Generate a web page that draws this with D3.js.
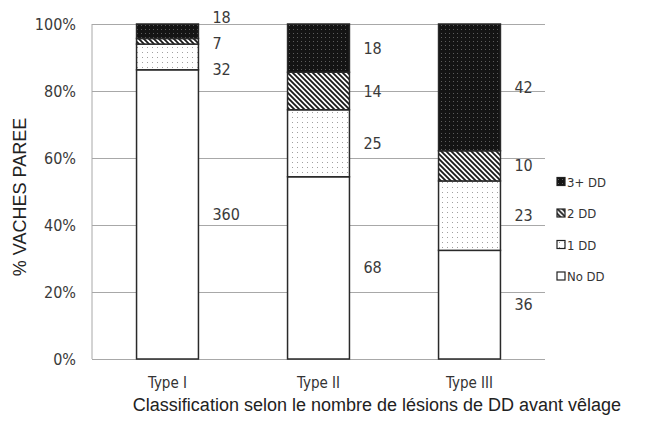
<!DOCTYPE html>
<html>
<head>
<meta charset="utf-8">
<script src="https://cdn.jsdelivr.net/npm/d3@7"></script>
<style>
  html, body { margin: 0; padding: 0; background: #fff; }
  svg { display: block; }
  .cond { font-family: "Liberation Sans Narrow", "DejaVu Sans Condensed", "Roboto Condensed", sans-serif; font-stretch: condensed; }
  .arial { font-family: "Liberation Sans", Arial, sans-serif; }
</style>
</head>
<body>
<svg id="chart" width="646" height="435"></svg>
<script>
// Cows grouped by number of DD lesions before calving
const categories = ["Type I", "Type II", "Type III"];
const seriesNames = ["No DD", "1 DD", "2 DD", "3+ DD"];
const noDD    = [360, 68, 36];
const oneDD   = [32, 25, 23];
const twoDD   = [7, 14, 10];
const threeDD = [18, 18, 42];
const yTicks  = [0, 0.2, 0.4, 0.6, 0.8, 1];
const yTitle  = "% VACHES PAREE";
const xTitle  = "Classification selon le nombre de lésions de DD avant vêlage";

const rows = categories.map((c, i) => ({
  cat: c,
  "No DD": noDD[i], "1 DD": oneDD[i], "2 DD": twoDD[i], "3+ DD": threeDD[i]
}));

const svg = d3.select("#chart");
const plotL = 92, plotR = 545, plotT = 24, plotB = 359;

const x = d3.scaleBand().domain(categories).range([plotL, plotR]).paddingInner(0.59).paddingOuter(0.295);
const y = d3.scaleLinear().domain([0, 1]).range([plotB, plotT]);

const stacked = d3.stack().keys(seriesNames).offset(d3.stackOffsetExpand)(rows);

// patterns
const defs = svg.append("defs");
const pDark = defs.append("pattern").attr("id", "pat-dark").attr("patternUnits", "userSpaceOnUse")
  .attr("width", 4).attr("height", 4);
pDark.append("rect").attr("width", 4).attr("height", 4).attr("fill", "#141414");
pDark.append("rect").attr("x", 1).attr("y", 1).attr("width", 1).attr("height", 1).attr("fill", "#5c5c5c");

const pHatch = defs.append("pattern").attr("id", "pat-hatch").attr("patternUnits", "userSpaceOnUse")
  .attr("width", 5).attr("height", 5);
pHatch.append("rect").attr("width", 5).attr("height", 5).attr("fill", "#fff");
pHatch.append("path").attr("d", "M-1,-1 L6,6 M-1,4 L1,6 M4,-1 L6,1")
  .attr("stroke", "#1a1a1a").attr("stroke-width", 1.8);

const pDots = defs.append("pattern").attr("id", "pat-dots").attr("patternUnits", "userSpaceOnUse")
  .attr("width", 5).attr("height", 5);
pDots.append("rect").attr("width", 5).attr("height", 5).attr("fill", "#fff");
pDots.append("rect").attr("x", 2).attr("y", 2).attr("width", 1).attr("height", 1).attr("fill", "#a0a0a0");

const fills = {
  "No DD": "#ffffff",
  "1 DD": "url(#pat-dots)",
  "2 DD": "url(#pat-hatch)",
  "3+ DD": "url(#pat-dark)"
};

// gridlines
const grid = svg.append("g").attr("transform", `translate(${plotL},0)`)
  .call(d3.axisLeft(y).tickValues(yTicks).tickSize(-(plotR - plotL)).tickFormat(""));
grid.select(".domain").remove();
grid.selectAll("line").attr("stroke", "#a8a8a8").attr("stroke-width", 1);

// vertical axis line
svg.append("line").attr("x1", plotL).attr("x2", plotL).attr("y1", y(1)).attr("y2", y(0))
  .attr("stroke", "#a8a8a8").attr("stroke-width", 1);

// y tick labels
const yAxis = svg.append("g").attr("transform", `translate(${plotL - 16},0)`)
  .call(d3.axisLeft(y).tickValues(yTicks).tickSize(0).tickPadding(0).tickFormat(d3.format(".0%")));
yAxis.select(".domain").remove();
yAxis.selectAll("text").attr("class", "cond").attr("font-size", 16).attr("fill", "#3a3a3a");

// bars
const layers = svg.append("g").selectAll("g").data(stacked).join("g")
  .attr("fill", d => fills[d.key]);
layers.selectAll("rect").data(d => d).join("rect")
  .attr("x", d => x(d.data.cat))
  .attr("width", x.bandwidth())
  .attr("y", d => y(d[1]))
  .attr("height", d => y(d[0]) - y(d[1]))
  .attr("stroke", "#2a2a2a")
  .attr("stroke-width", 1.5);

// value labels, spread apart where segments are too thin
const minGap = 26;
categories.forEach((c, i) => {
  const items = stacked.map(s => ({
    value: s[i].data[s.key],
    want: (y(s[i][0]) + y(s[i][1])) / 2
  })).sort((a, b) => a.want - b.want);
  let blocks = items.map(it => ({ items: [it], center: it.want }));
  let merged = true;
  while (merged) {
    merged = false;
    for (let k = 0; k < blocks.length - 1; k++) {
      const a = blocks[k], b = blocks[k + 1];
      const aEnd = a.center + (a.items.length - 1) / 2 * minGap;
      const bStart = b.center - (b.items.length - 1) / 2 * minGap;
      if (bStart - aEnd < minGap) {
        const all = a.items.concat(b.items);
        blocks.splice(k, 2, { items: all, center: d3.mean(all, t => t.want) });
        merged = true;
        break;
      }
    }
  }
  blocks.forEach(bl => bl.items.forEach((it, j) => {
    it.pos = bl.center + (j - (bl.items.length - 1) / 2) * minGap;
  }));
  svg.append("g").selectAll("text").data(items).join("text")
    .attr("class", "cond")
    .attr("x", x(c) + x.bandwidth() + 14)
    .attr("y", d => d.pos)
    .attr("dy", "0.35em")
    .attr("text-anchor", "start")
    .attr("font-size", 16)
    .attr("fill", "#3a3a3a")
    .text(d => d.value);
});

// category labels
const xAxis = svg.append("g").attr("transform", `translate(0,${plotB})`)
  .call(d3.axisBottom(x).tickSize(0).tickPadding(18));
xAxis.select(".domain").remove();
xAxis.selectAll("text").attr("class", "cond").attr("font-size", 15).attr("fill", "#333");

// axis titles
svg.append("text").attr("class", "arial")
  .attr("transform", `translate(26,197) rotate(-90)`)
  .attr("text-anchor", "middle").attr("font-size", 18).attr("fill", "#222")
  .text(yTitle);

svg.append("text").attr("class", "arial")
  .attr("x", 377).attr("y", 411)
  .attr("text-anchor", "middle").attr("font-size", 18).attr("fill", "#222")
  .text(xTitle);

// legend
const legendOrder = seriesNames.slice().reverse();
const lg = svg.append("g").selectAll("g").data(legendOrder).join("g")
  .attr("transform", (d, i) => `translate(557,${182 + i * 31.5})`);
lg.append("rect").attr("x", 0).attr("y", -4.5).attr("width", 8).attr("height", 8)
  .attr("fill", d => fills[d]).attr("stroke", "#222").attr("stroke-width", 1.2);
lg.append("text").attr("class", "cond").attr("x", 10).attr("y", 0).attr("dy", "0.35em")
  .attr("font-size", 13).attr("fill", "#333").text(d => d);
</script>
</body>
</html>
